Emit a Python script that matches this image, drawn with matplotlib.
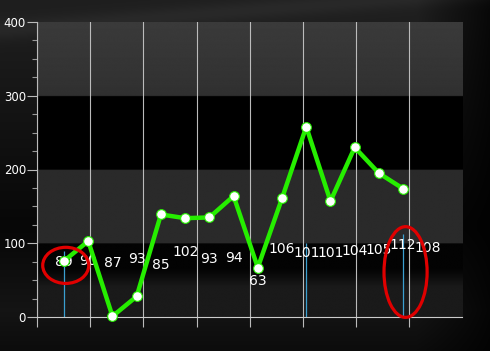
import numpy as np
import matplotlib
matplotlib.use("Agg")
import matplotlib.pyplot as plt
from matplotlib.patches import Ellipse

# ---- data ----
line_values = [76, 103, 1, 28, 139, 134, 135, 164, 67, 161, 258, 157, 230, 195, 174]
label_values = [89, 90, 87, 93, 85, 102, 93, 94, 63, 106, 101, 101, 104, 105, 112, 108]
bar_index = [0, 10, 14]
bar_values = [89, 101, 112]
date_labels = ["Mar 2005", "May 2006", "Jun 2007", "Jul 2008"]
grid_start = -1.116
grid_step = 2.195
n_grid = 8

fig = plt.figure(figsize=(4.9, 3.51), dpi=100)
fig.patch.set_facecolor("#111111")

# background gradient for the whole figure
bg = fig.add_axes([0, 0, 1, 1], zorder=-10)
H, W = 351, 490
yy, xx = np.mgrid[0:H, 0:W]
val = 0.12 - 0.09 * np.clip((yy - 20) / 200.0, 0, 1)
val += 0.05 * np.clip((yy - 230) / 80.0, 0, 1) * np.clip(1 - (yy - 310) / 60.0, 0, 1)
val *= np.clip(1.15 - 0.9 * np.clip((xx - 400) / 90.0, 0, 1), 0, 1)
swoosh = np.exp(-((yy - (30 - 0.08 * xx)) / 10.0) ** 2) * 0.04
val = np.clip(val + swoosh, 0, 1)
bg.imshow(np.dstack([val, val, val]), aspect="auto", extent=(0, 1, 0, 1), origin="upper")
bg.set_axis_off()

ax = fig.add_axes([37 / 490, 34 / 351, 425 / 490, 295 / 351])
ax.set_facecolor("black")
xlim = (grid_start, 16.43)
ax.set_xlim(*xlim)
ax.set_ylim(0, 400)

# bands as a vertical gradient image
yv = np.linspace(0, 400, 801)
col = np.zeros_like(yv)
col[yv >= 300] = 0.19 + 0.04 * (yv[yv >= 300] - 300) / 100
col[(yv >= 100) & (yv < 200)] = 0.165
m = yv < 100
low = yv[m]
col[m] = np.where(low > 65, 0.015, np.where(low > 40, 0.015 + 0.09 * (65 - low) / 25, 0.105))
img = np.tile(col[:, None], (1, 2))
ax.imshow(img, cmap="gray", vmin=0, vmax=1, aspect="auto",
          extent=(xlim[0], xlim[1], 0, 400), origin="lower", zorder=0, interpolation="bilinear")

# ticks / grid
xs = np.arange(len(line_values))
major_x = [grid_start + grid_step * k for k in range(n_grid)]
minor_x = [grid_start + grid_step * (2 * k + 1) for k in range(len(date_labels))]
ax.set_xticks(major_x)
ax.set_xticklabels([])
ax.set_xticks(minor_x, minor=True)
ax.set_xticklabels(date_labels, minor=True)
ax.tick_params(axis="x", which="major", length=7, color="#bbbbbb", width=0.8)
ax.tick_params(axis="x", which="minor", length=0, pad=1.5, labelsize=7.5, labelcolor="white")
ax.grid(axis="x", which="major", color="#bbbbbb", lw=0.8, zorder=1)

ax.set_yticks([0, 100, 200, 300, 400])
ax.set_yticks(np.arange(0, 401, 25), minor=True)
ax.tick_params(axis="y", which="major", length=7, color="#bbbbbb", width=0.8,
               labelsize=8.5, labelcolor="white", pad=1)
ax.tick_params(axis="y", which="minor", length=3.6, color="#999999", width=0.8)

for s in ["top", "right"]:
    ax.spines[s].set_visible(False)
ax.spines["left"].set_color("#bbbbbb")
ax.spines["left"].set_linewidth(0.8)
ax.spines["bottom"].set_color("#cccccc")
ax.spines["bottom"].set_linewidth(0.8)

# thin blue bars
ax.vlines(bar_index, 0, bar_values, colors="#3a9fd0", lw=0.9, zorder=2)

# value labels
for i, v in enumerate(label_values):
    ax.annotate(str(v), (i, v), xytext=(0, -7.5), textcoords="offset points",
                ha="center", va="center", color="white", fontsize=10, zorder=3)

# green line
ax.plot(xs, line_values, color="#26ee00", lw=3.2, marker="o", markersize=7,
        markerfacecolor="white", markeredgecolor="#26ee00", markeredgewidth=0.8,
        zorder=4, clip_on=False)

# red hand-drawn marks
ax.add_patch(Ellipse((0.07, 70), 1.9, 49, fill=False, ec="#e00000", lw=2.3,
                     zorder=6, clip_on=False))
ax.add_patch(Ellipse((14.1, 61), 1.78, 123, fill=False, ec="#e00000", lw=2.3,
                     zorder=6, clip_on=False))

fig.savefig("out.png", dpi=100, facecolor=fig.get_facecolor())
